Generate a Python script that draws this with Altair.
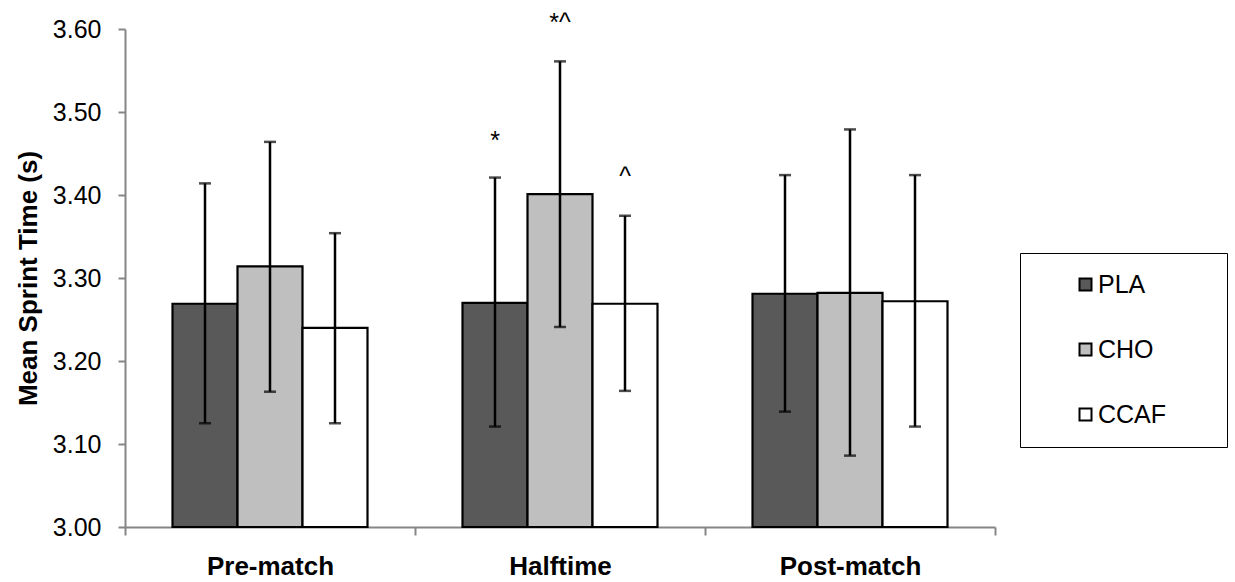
import altair as alt
import pandas as pd

groups = ["Pre-match", "Halftime", "Post-match"]
conditions = ["PLA", "CHO", "CCAF"]
colors = ["#595959", "#BFBFBF", "#FFFFFF"]

pla_mean = [3.269, 3.270, 3.281]
cho_mean = [3.314, 3.401, 3.282]
ccaf_mean = [3.240, 3.269, 3.272]

pla_low = [3.125, 3.121, 3.139]
pla_high = [3.414, 3.421, 3.424]
cho_low = [3.163, 3.241, 3.086]
cho_high = [3.464, 3.561, 3.479]
ccaf_low = [3.125, 3.164, 3.121]
ccaf_high = [3.354, 3.375, 3.424]

ann_group = ["Halftime", "Halftime", "Halftime"]
ann_cond = ["PLA", "CHO", "CCAF"]
ann_text = ["*", "*^", "^"]
ann_y = [3.456, 3.598, 3.412]

means = {"PLA": pla_mean, "CHO": cho_mean, "CCAF": ccaf_mean}
lows = {"PLA": pla_low, "CHO": cho_low, "CCAF": ccaf_low}
highs = {"PLA": pla_high, "CHO": cho_high, "CCAF": ccaf_high}

rows = []
for c in conditions:
    for i, g in enumerate(groups):
        rows.append({"group": g, "condition": c, "mean": means[c][i],
                     "low": lows[c][i], "high": highs[c][i]})
df = pd.DataFrame(rows)
ann = pd.DataFrame({"group": ann_group, "condition": ann_cond,
                    "text": ann_text, "y": ann_y})

FONT = "Liberation Sans"

x = alt.X("group:N", sort=groups, title=None,
          scale=alt.Scale(paddingInner=0, paddingOuter=0),
          axis=alt.Axis(tickBand="extent", labelAngle=0, labelFontSize=26,
                        labelFontWeight="bold", labelFont=FONT, labelColor="black",
                        labelPadding=18, tickSize=8, tickColor="#868686",
                        tickWidth=2, domainColor="#868686", domainWidth=2))
xo = alt.XOffset("condition:N", sort=conditions,
                 scale=alt.Scale(paddingInner=0, paddingOuter=0.7308))
yscale = alt.Scale(domain=[3.0, 3.6], zero=False, nice=False)
y = alt.Y("mean:Q", scale=yscale, title="Mean Sprint Time (s)",
          axis=alt.Axis(values=[3.0, 3.1, 3.2, 3.3, 3.4, 3.5, 3.6], format=".2f",
                        grid=False, tickSize=7, tickColor="#868686", tickWidth=2,
                        domainColor="#868686", domainWidth=2, labelFontSize=25,
                        labelFont=FONT, labelColor="black", labelPadding=17,
                        titleFontSize=26, titleFontWeight="bold", titleFont=FONT,
                        titleColor="black", titlePadding=11))

bars = alt.Chart(df).mark_bar(stroke="black", strokeWidth=2.2).encode(
    x=x, xOffset=xo, y=y, y2=alt.datum(3.0),
    color=alt.Color("condition:N", sort=conditions,
                    scale=alt.Scale(domain=conditions, range=colors),
                    legend=alt.Legend(title="\u00a0", titleOrient="right",
                                      titleFontSize=1, titlePadding=42,
                                      orient="none", legendX=895, legendY=224,
                                      padding=19, strokeColor="black",
                                      symbolType="square", symbolSize=144,
                                      symbolStrokeColor="black", symbolStrokeWidth=2,
                                      symbolOffset=34, labelOffset=0,
                                      labelFontSize=25, labelFont=FONT, labelColor="black",
                                      rowPadding=39))
)

rules = alt.Chart(df).mark_rule(color="black", strokeWidth=2.5).encode(
    x=x, xOffset=xo,
    y=alt.Y("low:Q", scale=yscale), y2="high:Q")

caps_low = alt.Chart(df).mark_tick(color="black", thickness=2.5, size=12,
                                   orient="horizontal").encode(
    x=x, xOffset=xo, y=alt.Y("low:Q", scale=yscale))
caps_high = alt.Chart(df).mark_tick(color="black", thickness=2.5, size=12,
                                    orient="horizontal").encode(
    x=x, xOffset=xo, y=alt.Y("high:Q", scale=yscale))

texts = alt.Chart(ann).mark_text(fontSize=25, font=FONT, color="black",
                                 baseline="alphabetic", align="center").encode(
    x=x, xOffset=xo, y=alt.Y("y:Q", scale=yscale), text="text:N")

chart = alt.layer(bars, rules, caps_low, caps_high, texts).properties(
    width=870, height=498,
    autosize=alt.AutoSizeParams(type="none"),
    padding={"left": 125, "top": 29, "right": 240, "bottom": 55},
).configure(background="white").configure_view(stroke=None)

chart.save("out.html", embed_options={"renderer": "svg", "actions": False})
